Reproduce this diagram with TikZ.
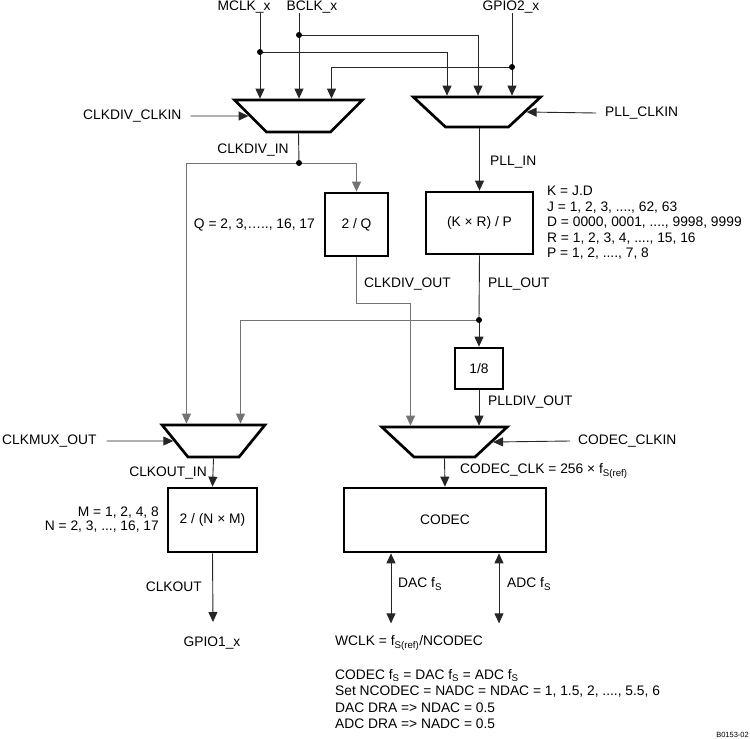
\documentclass[tikz,border=0pt]{standalone}
\usepackage{fontspec}
\setmainfont{Liberation Sans}
\usetikzlibrary{arrows.meta,shapes.geometric}

\begin{document}
\begin{tikzpicture}[x=1pt,y=-1pt,>={Triangle[length=10pt,width=9pt]},
    wire/.style={draw=black!85,line width=0.9pt},
    grey wire/.style={draw=black!55,line width=0.9pt},
    main box/.style={rectangle,draw,line width=2.7pt,inner sep=0pt,font=\fontsize{13.8}{16}\selectfont},
    mux node/.style={trapezium,trapezium angle=45,shape border rotate=180,draw,line width=2.7pt,inner sep=0pt,text depth=0pt},
    label text/.style={inner sep=0pt,font=\fontsize{13.8}{16}\selectfont},
    dot/.style={circle,fill=black,inner sep=0pt,minimum size=6pt}]
    \useasboundingbox (0,0) rectangle (750,739);

    % inputs
    \node[label text] (mclk) at (244,7) {MCLK\_x};
    \node[label text] (bclk) at (312,7) {BCLK\_x};
    \node[label text] (gpio2) at (511,7) {GPIO2\_x};
    \coordinate (dotB) at (299,35);
    \coordinate (dotM) at (260,52);
    \coordinate (dotG) at (512,67);

    % muxes
    \node[mux node,text width=64pt,text height=32pt] (lmux) at (298.5,116) {};
    \node[mux node,text width=63pt,text height=30pt,trapezium angle=43] (rmux) at (477,112) {};
    \node[mux node,text width=51pt,text height=32pt,trapezium angle=51] (cmux) at (213.5,441) {};
    \node[mux node,text width=61pt,text height=30pt,trapezium angle=43] (dmux) at (444.5,442) {};

    % dividers
    \node[main box,minimum width=63pt,minimum height=63pt] (qdiv) at (356.5,224.5) {2 / Q};
    \node[main box,minimum width=107pt,minimum height=62pt] (pll) at (479.5,223) {(K × R) / P};
    \node[main box,minimum width=48pt,minimum height=41pt] (div8) at (479,368.5) {1/8};
    \node[main box,minimum width=89pt,minimum height=64pt] (ndiv) at (212.5,520) {2 / (N × M)};
    \node[main box,minimum width=202pt,minimum height=64pt] (codec) at (445,520) {CODEC};

    \coordinate (dotDivIn) at (299,163);
    \coordinate (dotPll) at (479,320);
    \coordinate (clkoutend) at (213,622);

    % side labels
    \node[label text,anchor=west] (clkdivclkin) at (83,116) {CLKDIV\_CLKIN};
    \node[label text,anchor=west] (pllclkin) at (605,113) {PLL\_CLKIN};
    \node[label text,anchor=west] (clkmuxout) at (2,441) {CLKMUX\_OUT};
    \node[label text,anchor=west] (codecclkin) at (578,441) {CODEC\_CLKIN};

    % top connections
    \draw[wire,->] (mclk.south -| dotM) -- (dotM |- lmux.north);
    \draw[wire,->] (bclk.south -| dotB) -- (dotB |- lmux.north);
    \draw[wire,->] (gpio2.south -| dotG) -- (dotG |- rmux.north);
    \draw[wire,->] (dotM) -| ([xshift=-30pt]rmux.north);
    \draw[wire,->] (dotB) -| ([xshift=1pt]rmux.north);
    \draw[wire,->] (dotG) -| ([xshift=33pt]lmux.north);
    \node[dot] at (dotM) {};
    \node[dot] at (dotB) {};
    \node[dot] at (dotG) {};

    \draw[wire,->] ([xshift=9pt]clkdivclkin.east) -- (lmux.west);
    \draw[wire,->] ([xshift=-9pt]pllclkin.west) -- (rmux.east);

    % CLKDIV_IN
    \draw[wire] (lmux.south) -- (dotDivIn);
    \draw[grey wire,->] (dotDivIn) -| (qdiv.north);
    \draw[grey wire,->] (dotDivIn) -| ([xshift=-27pt]cmux.north);
    \node[dot] at (dotDivIn) {};
    \node[label text] (clkdivin) at (253,150) {CLKDIV\_IN};
    \node[label text,anchor=east] (qrange) at (315,225) {Q = 2, 3,….., 16, 17};

    % PLL
    \draw[wire,->] (pll.north |- rmux.south) -- (pll.north);
    \node[label text,anchor=west] (pllin) at (490,162) {PLL\_IN};
    \node[label text,anchor=north west,align=left,font=\fontsize{13.8}{15.5}\selectfont] (pllrange) at (547,186)
        {K = J.D\\J = 1, 2, 3, ...., 62, 63\\D = 0000, 0001, ...., 9998, 9999\\R = 1, 2, 3, 4, ...., 15, 16\\P = 1, 2, ...., 7, 8};
    \draw[wire] (pll.south) -- (dotPll);
    \draw[wire,->] (dotPll) -- (div8.north);
    \draw[grey wire,->] (dotPll) -| ([xshift=27pt]cmux.north);
    \node[dot] at (dotPll) {};
    \node[label text,anchor=west] (pllout) at (488,284) {PLL\_OUT};

    % CLKDIV_OUT
    \draw[grey wire,->] (qdiv.south) -- ++(0,46) -| ([xshift=-34pt]dmux.north);
    \node[label text,anchor=west] (clkdivout) at (364,284) {CLKDIV\_OUT};
    \draw[wire,->] (div8.south) -- (div8.south |- dmux.north);
    \node[label text,anchor=west] (plldivout) at (488,402) {PLLDIV\_OUT};

    % lower muxes
    \draw[wire,->] ([xshift=10pt]clkmuxout.east) -- (cmux.west);
    \draw[wire,->] ([xshift=-8pt]codecclkin.west) -- (dmux.east);
    \draw[wire,->] (cmux.south) -- (ndiv.north);
    \node[label text,anchor=east] (clkoutin) at (207,473) {CLKOUT\_IN};
    \draw[wire,->] (dmux.south) -- (codec.north);
    \node[label text,anchor=west] (codecclk) at (460,471) {CODEC\_CLK = 256 × f\textsubscript{S(ref)}};

    % CLKOUT
    \node[label text,anchor=east,align=right,font=\fontsize{13.8}{14}\selectfont] (nmrange) at (159,520)
        {M = 1, 2, 4, 8\\N = 2, 3, ..., 16, 17};
    \draw[wire,->] (ndiv.south) -- (clkoutend);
    \node[label text,anchor=east] (clkout) at (202,587) {CLKOUT};
    \node[label text] (gpio1) at (212,643) {GPIO1\_x};

    % CODEC rates
    \draw[wire,<->] ([xshift=-54pt]codec.south) -- ++(0,70);
    \draw[wire,<->] ([xshift=54pt]codec.south) -- ++(0,70);
    \node[label text,anchor=west] (dacfs) at (398,584) {DAC f\textsubscript{S}};
    \node[label text,anchor=west] (adcfs) at (507,584) {ADC f\textsubscript{S}};
    \node[label text,anchor=west] (wclk) at (335,643) {WCLK = f\textsubscript{S(ref)}/NCODEC};
    \node[label text,anchor=north west,align=left,font=\fontsize{13.8}{16.5}\selectfont] (notes) at (335,669)
        {CODEC f\textsubscript{S} = DAC f\textsubscript{S} = ADC f\textsubscript{S}\\
         Set NCODEC = NADC = NDAC = 1, 1.5, 2, ...., 5.5, 6\\
         DAC DRA => NDAC = 0.5\\
         ADC DRA => NADC = 0.5};
    \node[label text,anchor=east,font=\fontsize{7.5}{8}\selectfont] (figid) at (749,735) {B0153-02};
\end{tikzpicture}
\end{document}
